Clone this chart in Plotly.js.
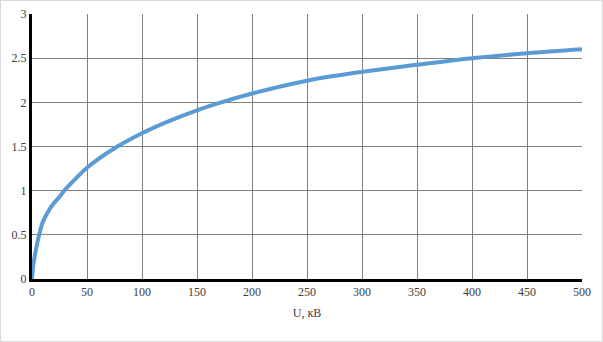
<!DOCTYPE html>
<html>
<head>
<meta charset="utf-8">
<script src="https://cdn.plot.ly/plotly-3.0.1.min.js"></script>
<style>
  html, body { margin: 0; padding: 0; background: #fff; }
  #wrap { position: relative; width: 603px; height: 342px; }
  #chart { width: 603px; height: 342px; }
  #frame { position: absolute; left: 0; top: 0; width: 601px; height: 340px; border: 1px solid #d9d9d9; pointer-events: none; }
</style>
</head>
<body>
<div id="wrap">
  <div id="chart"></div>
  <div id="frame"></div>
</div>
<script>
const voltage = [0, 1, 2.5, 5, 7.5, 10, 15, 20, 25, 30, 40, 50, 75, 100, 125, 150, 175, 200, 250, 300, 350, 400, 450, 500];
const values  = [0, 0.14, 0.26, 0.42, 0.55, 0.65, 0.77, 0.86, 0.93, 1.01, 1.14, 1.26, 1.48, 1.65, 1.79, 1.91, 2.01, 2.10, 2.245, 2.345, 2.425, 2.50, 2.555, 2.60];
const xTicks = [0, 50, 100, 150, 200, 250, 300, 350, 400, 450, 500];
const yTicks = [0, 0.5, 1, 1.5, 2, 2.5, 3];
const xTitle = 'U, кВ';

const trace = {
  x: voltage,
  y: values,
  type: 'scatter',
  mode: 'lines',
  line: { color: '#5b9bd5', width: 4, shape: 'spline', smoothing: 1 },
  hoverinfo: 'none'
};

const layout = {
  width: 603,
  height: 342,
  margin: { l: 32, r: 21, t: 14, b: 63 },
  paper_bgcolor: '#ffffff',
  plot_bgcolor: '#ffffff',
  showlegend: false,
  font: { family: 'Liberation Serif, serif', size: 12, color: '#404040' },
  xaxis: {
    range: [0, 500],
    tickvals: xTicks,
    ticktext: xTicks.map(String),
    showgrid: true,
    gridcolor: '#808080',
    gridwidth: 1,
    showline: true,
    linecolor: '#000000',
    linewidth: 3,
    zeroline: false,
    ticks: '',
    tickfont: { family: 'Liberation Serif, serif', size: 12, color: '#404040' },
    title: { text: xTitle, font: { family: 'Liberation Serif, serif', size: 12, color: '#404040' }, standoff: 11 },
    fixedrange: true
  },
  yaxis: {
    range: [0, 3],
    tickvals: yTicks,
    ticktext: yTicks.map(String),
    showgrid: true,
    gridcolor: '#808080',
    gridwidth: 1,
    showline: true,
    linecolor: '#000000',
    linewidth: 3,
    zeroline: false,
    ticks: '',
    tickfont: { family: 'Liberation Serif, serif', size: 12, color: '#404040' },
    fixedrange: true
  }
};

Plotly.newPlot('chart', [trace], layout, { displayModeBar: false, staticPlot: true });
</script>
</body>
</html>
